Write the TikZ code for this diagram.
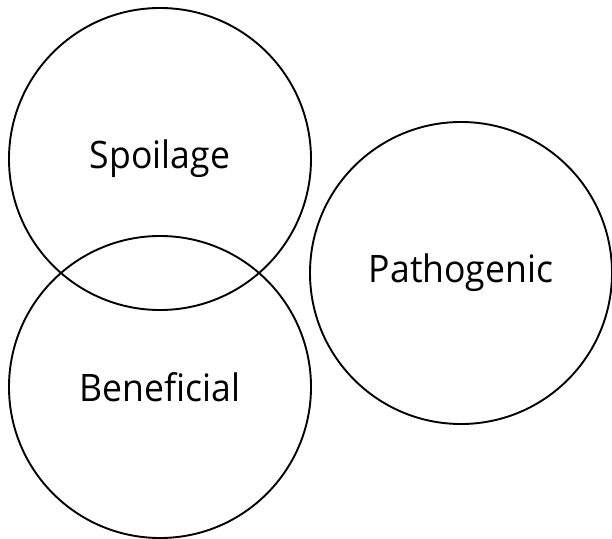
\documentclass[tikz,border=0pt]{standalone}
\usepackage{fontspec}
\setmainfont[FakeStretch=0.94]{Open Sans}
\begin{document}
\begin{tikzpicture}[x=1bp,y=-1bp,
  setcircle/.style={circle,draw=black,line width=1.9bp,minimum size=302bp,inner sep=0pt,
    font=\fontsize{38}{44}\selectfont}]
\useasboundingbox (0,0) rectangle (612,539);
\node[setcircle] (spoil) at (160,159) {Spoilage};
\node[setcircle] (benef) at (160,387) {Beneficial};
\node[setcircle] (patho) at (461,273) {Pathogenic};
\end{tikzpicture}
\end{document}
